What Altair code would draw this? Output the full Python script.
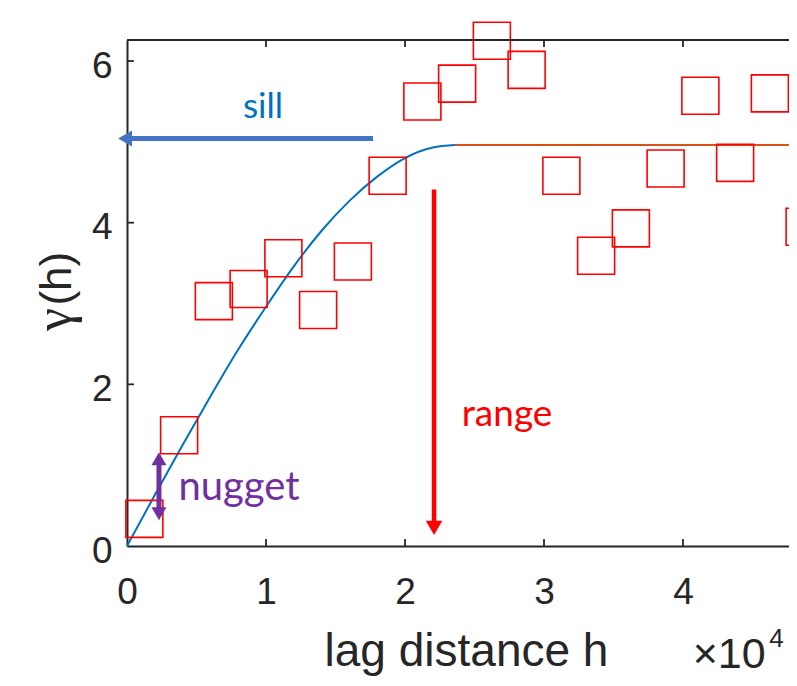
import altair as alt
import pandas as pd

# ---- data (x in units of 10^4) ----
lag = [0.125, 0.375, 0.625, 0.875, 1.125, 1.375, 1.625, 1.875, 2.125, 2.375,
       2.625, 2.875, 3.125, 3.375, 3.625, 3.875, 4.125, 4.375, 4.625, 4.875]
gamma = [0.335, 1.37, 3.03, 3.18, 3.56, 2.92, 3.52, 4.58, 5.50, 5.72,
         6.25, 5.89, 4.58, 3.59, 3.93, 4.67, 5.57, 4.74, 5.60, 3.95]

model_h = [0.0, 0.2, 0.4, 0.6, 0.8, 1.0, 1.2, 1.4, 1.6, 1.8, 2.0, 2.2, 2.36]
model_g = [0.0, 0.63, 1.25, 1.85, 2.43, 2.96, 3.46, 3.90, 4.27, 4.57, 4.80, 4.93, 4.96]

sill_h = [2.36, 5.0]
sill_g = [4.96, 4.96]

x_ticks = [0, 1, 2, 3, 4]
y_ticks = [0, 2, 4, 6]

# annotation arrows (data units)
sill_arrow_x = [-0.014, 1.77]
sill_arrow_y = 5.04
range_arrow_x = 2.209
range_arrow_y = [0.223, 4.41]
nugget_arrow_x = 0.230
nugget_arrow_y = [0.40, 1.08]

labels = ["sill", "range", "nugget"]
label_x = [0.978, 2.734, 0.806]
label_y = [5.296, 1.482, 0.575]

W = 662
H = 506
XMAX = W / 139.0
YMAX = 6.26
AXC = "#262626"

xs = alt.Scale(domain=[0, XMAX], nice=False, zero=False)
ys = alt.Scale(domain=[0, YMAX], nice=False, zero=False)

AX = alt.Axis(values=x_ticks, title="lag distance h", ticks=False, tickSize=0,
              labelPadding=28, labelFontSize=37, titleFontSize=46,
              titleX=339, titleY=119.5, titleBaseline="alphabetic", titleAlign="center",
              grid=False, labelFlush=False)
AY = alt.Axis(values=y_ticks, title="", ticks=False, tickSize=0,
              labelPadding=15, labelOffset=5, labelFontSize=37,
              grid=False, labelFlush=False)


def X(f):
    return alt.X(f, type="quantitative", scale=xs, axis=AX)


def Y(f):
    return alt.Y(f, type="quantitative", scale=ys, axis=AY)


pts_df = pd.DataFrame({"h": lag, "g": gamma})
model_df = pd.DataFrame({"h": model_h, "g": model_g})
sill_df = pd.DataFrame({"h": sill_h, "g": sill_g})

points = alt.Chart(pts_df).mark_point(
    shape="square", size=1369, filled=False, color="#FF0000", strokeWidth=1.6,
    opacity=1, clip=False
).encode(x=X("h"), y=Y("g"))

curve = alt.Chart(model_df).mark_line(
    color="#0072BD", strokeWidth=2, interpolate="monotone"
).encode(x=X("h"), y=Y("g"))

sill_line = alt.Chart(sill_df).mark_line(
    color="#D95319", strokeWidth=2, clip=True
).encode(x=X("h"), y=Y("g"))

# frame: top border and inward ticks
top_border = alt.Chart(pd.DataFrame({"y": [YMAX]})).mark_rule(
    color=AXC, strokeWidth=2
).encode(y=Y("y"))

xt_df = pd.DataFrame({"x": x_ticks[1:], "y0": [0] * 4, "y1": [YMAX] * 4})
xt_bottom = alt.Chart(xt_df).mark_tick(
    orient="vertical", size=7, thickness=1.8, yOffset=-3.5, color=AXC, opacity=1
).encode(x=X("x"), y=Y("y0"))
xt_top = alt.Chart(xt_df).mark_tick(
    orient="vertical", size=7, thickness=1.8, yOffset=3.5, color=AXC, opacity=1
).encode(x=X("x"), y=Y("y1"))
yt_df = pd.DataFrame({"y": y_ticks[1:], "x0": [0] * 3})
yt_left = alt.Chart(yt_df).mark_tick(
    orient="horizontal", size=7, thickness=1.8, xOffset=3.5, color=AXC, opacity=1
).encode(x=X("x0"), y=Y("y"))

# sill arrow
sill_df2 = pd.DataFrame({"x": [sill_arrow_x[0]], "x2": [sill_arrow_x[1]], "y": [sill_arrow_y]})
sill_shaft = alt.Chart(sill_df2).mark_rule(color="#4472C4", strokeWidth=5, clip=False).encode(
    x=X("x"), x2="x2", y=Y("y"))
sill_head = alt.Chart(sill_df2).mark_point(
    shape="triangle-left", size=256, filled=True, color="#4472C4", opacity=1, clip=False
).encode(x=X("x"), y=Y("y"))

# range arrow
range_df = pd.DataFrame({"x": [range_arrow_x], "y": [range_arrow_y[0]], "y2": [range_arrow_y[1]]})
range_shaft = alt.Chart(range_df).mark_rule(color="#FF0000", strokeWidth=4.5).encode(
    x=X("x"), y=Y("y"), y2="y2")
range_head = alt.Chart(range_df).mark_point(
    shape="triangle-down", size=270, filled=True, color="#FF0000", opacity=1
).encode(x=X("x"), y=Y("y"))

# nugget double arrow
nug_df = pd.DataFrame({"x": [nugget_arrow_x], "y": [nugget_arrow_y[0]], "y2": [nugget_arrow_y[1]]})
nug_shaft = alt.Chart(nug_df).mark_rule(color="#7030A0", strokeWidth=5).encode(
    x=X("x"), y=Y("y"), y2="y2")
nug_head_dn = alt.Chart(nug_df).mark_point(
    shape="triangle-down", size=225, filled=True, color="#7030A0", opacity=1
).encode(x=X("x"), y=Y("y"))
nug_head_up = alt.Chart(nug_df).mark_point(
    shape="triangle-up", size=225, filled=True, color="#7030A0", opacity=1
).encode(x=X("x"), y=Y("y2"))

lab_df = pd.DataFrame({"t": labels, "x": label_x, "y": label_y})
t_sill = alt.Chart(lab_df.iloc[[0]]).mark_text(
    font="Lato", fontSize=35, color="#0070C0", align="center", baseline="alphabetic"
).encode(x=X("x"), y=Y("y"), text="t:N")
t_range = alt.Chart(lab_df.iloc[[1]]).mark_text(
    font="Lato", fontSize=37, color="#FF0000", align="center", baseline="alphabetic"
).encode(x=X("x"), y=Y("y"), text="t:N")
t_nug = alt.Chart(lab_df.iloc[[2]]).mark_text(
    font="Lato", fontSize=40, color="#7030A0", align="center", baseline="alphabetic"
).encode(x=X("x"), y=Y("y"), text="t:N")

# y-axis title, drawn as two rotated texts: gamma and (h)
yt_g = alt.Chart(pd.DataFrame({"t": ["γ"], "x": [-0.403], "y": [2.66]})).mark_text(
    font="Liberation Serif", fontSize=52, color=AXC, align="left", baseline="alphabetic",
    angle=270, clip=False
).encode(x=X("x"), y=Y("y"), text="t:N")
yt_h = alt.Chart(pd.DataFrame({"t": ["(h)"], "x": [-0.403], "y": [2.975]})).mark_text(
    font="Liberation Sans", fontSize=44, color=AXC, align="left", baseline="alphabetic",
    angle=270, clip=False
).encode(x=X("x"), y=Y("y"), text="t:N")

# exponent label "x10^4" below the axis end
exp_df = pd.DataFrame({"t": ["×10"], "x": [4.07], "y": [-1.512]})
exp_sup = pd.DataFrame({"t": ["4"], "x": [4.62], "y": [-1.25]})
t_exp = alt.Chart(exp_df).mark_text(
    font="Liberation Sans", fontSize=43, color=AXC, align="left", baseline="alphabetic", clip=False
).encode(x=X("x"), y=Y("y"), text="t:N")
t_sup = alt.Chart(exp_sup).mark_text(
    font="Liberation Sans", fontSize=26, color=AXC, align="left", baseline="alphabetic", clip=False
).encode(x=X("x"), y=Y("y"), text="t:N")

chart = alt.layer(
    curve, sill_line, points, top_border, xt_bottom, xt_top, yt_left,
    sill_shaft, sill_head, range_shaft, range_head,
    nug_shaft, nug_head_dn, nug_head_up,
    t_sill, t_range, t_nug, yt_g, yt_h, t_exp, t_sup
).properties(
    width=W, height=H,
    autosize=alt.AutoSizeParams(type="none"),
    padding={"left": 119, "top": 32, "right": 0, "bottom": 132},
).configure_view(
    stroke=None
).configure_axis(
    labelFont="Liberation Sans", titleFont="Liberation Sans",
    labelColor=AXC, titleColor=AXC, titleFontWeight="normal",
    domainColor=AXC, domainWidth=2,
)

chart.save("out.html", embed_options={"renderer": "svg", "actions": False})
